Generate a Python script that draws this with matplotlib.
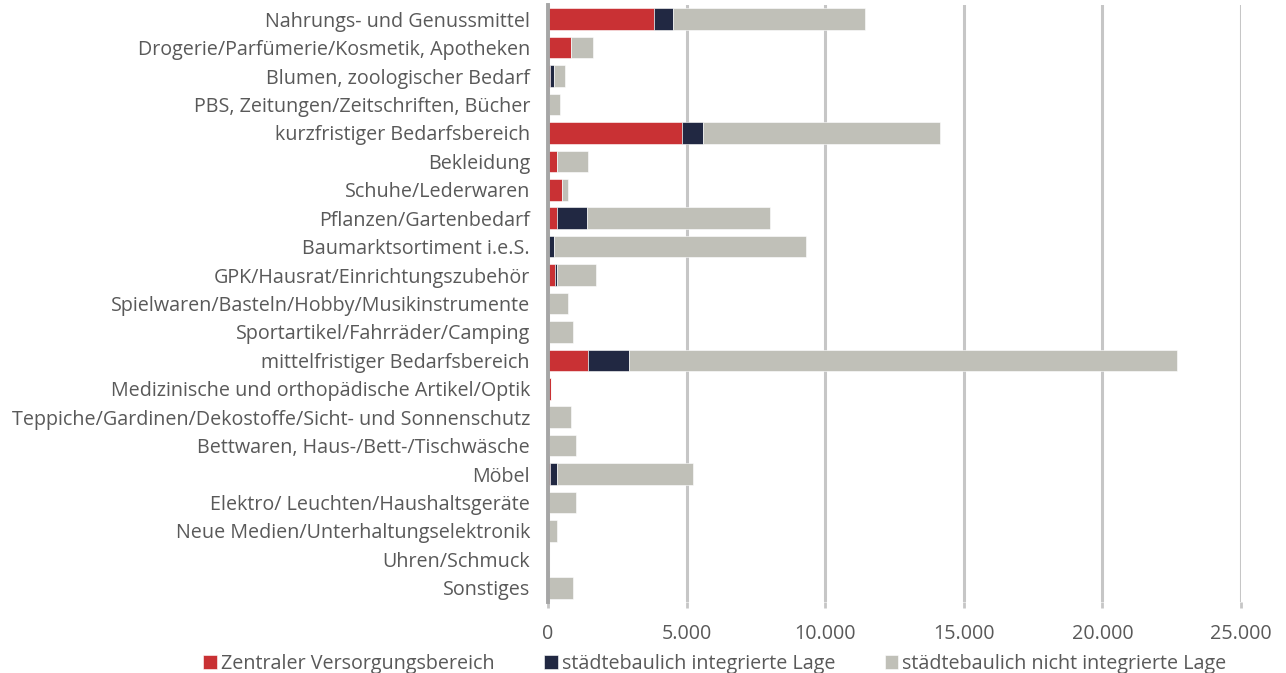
import numpy as np
import matplotlib
matplotlib.use("Agg")
import matplotlib.pyplot as plt
from matplotlib.ticker import FuncFormatter

plt.rcParams['font.family'] = ['Open Sans', 'DejaVu Sans']

# Verkaufsflaeche je Sortiment und Lage (m²)
sortimente = [
    "Nahrungs- und Genussmittel",
    "Drogerie/Parfümerie/Kosmetik, Apotheken",
    "Blumen, zoologischer Bedarf",
    "PBS, Zeitungen/Zeitschriften, Bücher",
    "kurzfristiger Bedarfsbereich",
    "Bekleidung",
    "Schuhe/Lederwaren",
    "Pflanzen/Gartenbedarf",
    "Baumarktsortiment i.e.S.",
    "GPK/Hausrat/Einrichtungszubehör",
    "Spielwaren/Basteln/Hobby/Musikinstrumente",
    "Sportartikel/Fahrräder/Camping",
    "mittelfristiger Bedarfsbereich",
    "Medizinische und orthopädische Artikel/Optik",
    "Teppiche/Gardinen/Dekostoffe/Sicht- und Sonnenschutz",
    "Bettwaren, Haus-/Bett-/Tischwäsche",
    "Möbel",
    "Elektro/ Leuchten/Haushaltsgeräte",
    "Neue Medien/Unterhaltungselektronik",
    "Uhren/Schmuck",
    "Sonstiges",
]
zvb = [3820, 830, 60, 40, 4830, 310, 520, 310, 0, 240, 30, 0, 1430,
       120, 0, 40, 60, 0, 0, 0, 0]
integriert = [680, 0, 160, 0, 770, 0, 0, 1110, 220, 70, 0, 30, 1490,
              0, 0, 0, 250, 0, 0, 0, 0]
nicht_integriert = [6920, 790, 390, 390, 8530, 1120, 200, 6590, 9100, 1420, 690, 880, 19780,
                    0, 830, 980, 4920, 1020, 310, 50, 900]

serien = ["Zentraler Versorgungsbereich", "städtebaulich integrierte Lage",
          "städtebaulich nicht integrierte Lage"]
farben = ["#C93134", "#212842", "#C0C0B8"]
textfarbe = "#595959"
fs = 14.2

fig = plt.figure(figsize=(12.86, 6.73), dpi=100)
ax = fig.add_axes([548/1286, 1 - 602/673, (1241 - 548)/1286, (602 - 5)/673])

y = np.arange(len(sortimente))
links = np.zeros(len(sortimente))
for werte, name, farbe in zip([zvb, integriert, nicht_integriert], serien, farben):
    werte = np.array(werte, dtype=float)
    ax.barh(y, werte, left=links, height=0.76, color=farbe, label=name,
            edgecolor="white", linewidth=0.4, zorder=3)
    links += werte

ax.set_ylim(len(sortimente) - 0.5, -0.5)
ax.set_xlim(0, 25000)
ax.set_xticks(np.arange(0, 25001, 5000))
ax.xaxis.set_major_formatter(FuncFormatter(lambda v, p: f"{int(v):,}".replace(",", ".")))
ax.set_yticks(y)
ax.set_yticklabels(sortimente)

ax.grid(axis="x", color="#c6c6c6", linewidth=2.2, zorder=0)
for s in ["top", "right", "bottom"]:
    ax.spines[s].set_visible(False)
ax.spines["left"].set_color("#a6a6a6")
ax.spines["left"].set_linewidth(2.8)
ax.spines["left"].set_zorder(4)

ax.tick_params(axis="y", length=0, pad=13, labelsize=fs, labelcolor=textfarbe)
ax.tick_params(axis="x", length=4, width=2, color="#c6c6c6", pad=12,
               labelsize=fs, labelcolor=textfarbe)

fig.legend(loc="center", bbox_to_anchor=(715/1286, 1 - 664/673), ncol=3, frameon=False,
           fontsize=fs, labelcolor=textfarbe, handlelength=0.7, handleheight=0.7,
           handletextpad=0.2, columnspacing=2.5, borderaxespad=0)

fig.savefig("out.png", dpi=100, facecolor="white")
